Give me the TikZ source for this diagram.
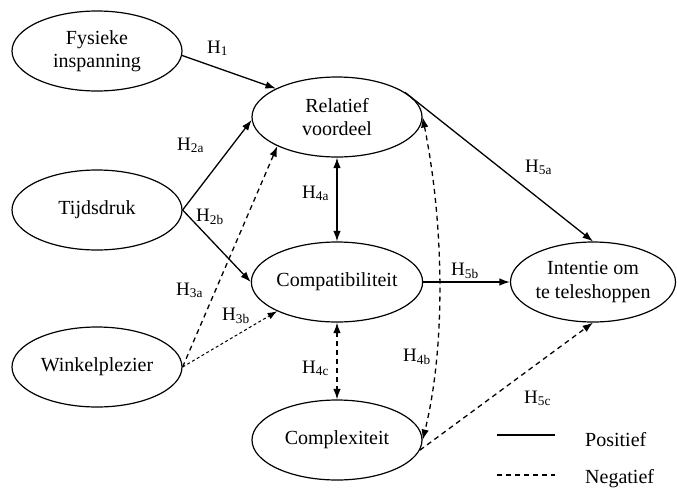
\documentclass[tikz,border=0pt]{standalone}
\usepackage{fontspec}
\setmainfont{Liberation Serif}
\usetikzlibrary{arrows.meta,shapes.geometric}
\begin{document}
\begin{tikzpicture}[x=1pt,y=-1pt,
  var/.style={ellipse,draw,line width=1.2pt,minimum width=170pt,minimum height=80pt,inner sep=0pt,align=center,font=\fontsize{20}{23.5}\selectfont},
  lab/.style={anchor=base west,inner sep=0pt,font=\fontsize{19}{20}\selectfont},
  posarr/.style={line width=1.3pt,-{Latex[length=10.5pt,width=7.5pt]}},
  negarr/.style={posarr,dash pattern=on 5pt off 4pt},
  finearr/.style={line width=1pt,dash pattern=on 3pt off 2.5pt,-{Latex[length=9.5pt,width=7pt]}},
  botharr/.style={{Latex[length=10.5pt,width=7.5pt]}-{Latex[length=10.5pt,width=7.5pt]}},
  leg/.style={anchor=base west,inner sep=0pt,font=\fontsize{20}{23.5}\selectfont}]
\fill[white] (0,0) rectangle (677,488);
\useasboundingbox (0,0) rectangle (677,488);

\node[var] (fys) at (97,51) {Fysieke\\inspanning};
\node[var] (tij) at (97,210) {Tijdsdruk};
\node[var] (win) at (97,367) {Winkelplezier};
\node[var] (rel) at (337,117) {Relatief\\voordeel};
\node[var] (com) at (337,282) {Compatibiliteit};
\node[var] (cpx) at (337,440) {Complexiteit};
\node[var,minimum width=165pt] (int) at (593,282) {Intentie om\\te teleshoppen};

\draw[posarr] (fys.-3) -- (rel.155);
\draw[posarr] (tij.east) -- (rel.182);
\draw[posarr] (tij.east) -- (com.west);
\draw[negarr] (win.east) -- (rel.206);
\draw[finearr] (win.east) -- (com.206);
\draw[line width=1.3pt,botharr] (rel.south) -- (com.north);
\draw[line width=1.3pt,botharr,dash pattern=on 5pt off 4pt] (com.south) -- (cpx.north);
\draw[line width=1.3pt,botharr,dash pattern=on 5pt off 4pt] (rel.east) .. controls (445,230) and (445,350) .. (cpx.east);
\draw[posarr] (rel.20) -- (int.north);
\draw[posarr] (com.east) -- (int.west);
\draw[negarr] (cpx.-7) -- (int.south);

\node[lab] (h1) at (207,53) {H\textsubscript{1}};
\node[lab] (h2a) at (177,150) {H\textsubscript{2a}};
\node[lab] (h2b) at (196,221) {H\textsubscript{2b}};
\node[lab] (h3a) at (176,295) {H\textsubscript{3a}};
\node[lab] (h3b) at (222,320) {H\textsubscript{3b}};
\node[lab] (h4a) at (302,198) {H\textsubscript{4a}};
\node[lab] (h4c) at (302,373) {H\textsubscript{4c}};
\node[lab] (h4b) at (403,361) {H\textsubscript{4b}};
\node[lab] (h5a) at (525,172) {H\textsubscript{5a}};
\node[lab] (h5b) at (451,275) {H\textsubscript{5b}};
\node[lab] (h5c) at (524,403) {H\textsubscript{5c}};

\coordinate (p1) at (497,435);
\coordinate (p2) at (555,435);
\coordinate (n1) at (497,475);
\coordinate (n2) at (555,475);
\draw[line width=1.1pt] (p1) -- (p2);
\draw[line width=1.1pt,dash pattern=on 5pt off 4pt] (n1) -- (n2);
\node[leg] (lpos) at (585,446) {Positief};
\node[leg] (lneg) at (585,483) {Negatief};
\end{tikzpicture}
\end{document}
